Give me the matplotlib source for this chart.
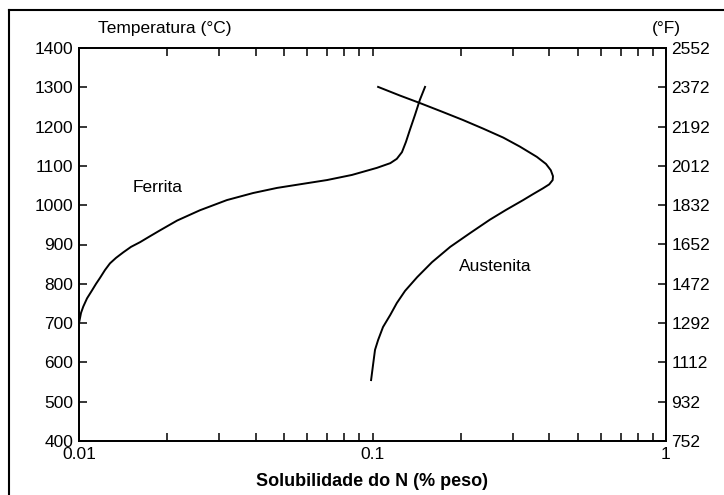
import numpy as np
import matplotlib.pyplot as plt
from matplotlib.lines import Line2D

# Solubilidade do N no ferro: ferrita e austenita
ferrita_n = [0.0100, 0.01016, 0.01034, 0.01065, 0.01107, 0.01143, 0.01179, 0.01226,
             0.01275, 0.01337, 0.01415, 0.01504, 0.01615, 0.01745, 0.01888, 0.0216,
             0.0258, 0.0319, 0.0392, 0.0473, 0.0575, 0.0700, 0.0851, 0.1035,
             0.115, 0.121, 0.126, 0.130, 0.134, 0.1396, 0.145, 0.151]
ferrita_t = [700, 726, 742, 763, 783, 800, 815, 835,
             852, 866, 880, 894, 906, 921, 936, 961,
             987, 1013, 1031, 1044, 1054, 1064, 1077, 1095,
             1107, 1118, 1135, 1161, 1191, 1230, 1268, 1301]

austenita_n = [0.1045, 0.124, 0.145, 0.1725, 0.203, 0.238, 0.279, 0.318, 0.363, 0.390,
               0.405, 0.412, 0.411, 0.400, 0.381, 0.352, 0.326, 0.285, 0.251, 0.215, 0.184,
               0.1595, 0.142, 0.1291, 0.121, 0.115, 0.1086, 0.1045, 0.102, 0.1004, 0.0989]
austenita_t = [1301, 1279, 1260, 1238, 1217, 1195, 1172, 1149, 1123, 1105,
               1089, 1074, 1064, 1053, 1043, 1028, 1013, 988, 963, 929, 894,
               855, 817, 782, 751, 721, 690, 657, 632, 593, 555]

temp_c = [400, 500, 600, 700, 800, 900, 1000, 1100, 1200, 1300, 1400]
temp_f = [752, 932, 1112, 1292, 1472, 1652, 1832, 2012, 2192, 2372, 2552]

plt.rcParams['font.family'] = ['Liberation Sans', 'DejaVu Sans']
fs = 12.5

fig = plt.figure(figsize=(7.24, 4.95), dpi=100)
ax = fig.add_axes([79 / 724, 1 - 441 / 495, (666 - 79) / 724, (441 - 48) / 495])

ax.plot(ferrita_n, ferrita_t, color='black', lw=1.4, solid_joinstyle='round')
ax.plot(austenita_n, austenita_t, color='black', lw=1.4, solid_joinstyle='round')

ax.set_xscale('log')
ax.set_xlim(0.01, 1)
ax.set_ylim(400, 1400)
ax.set_yticks(temp_c)
ax.set_xticks([0.01, 0.1, 1])
ax.set_xticklabels(['0.01', '0.1', '1'])
ax.tick_params(axis='both', which='major', direction='in', length=6, width=1.1,
               labelsize=fs, top=True, pad=4)
ax.tick_params(axis='x', which='minor', direction='in', length=6, width=1.1, top=True)
ax.tick_params(axis='y', which='both', right=False)
for s in ax.spines.values():
    s.set_linewidth(1.3)

# escala em Fahrenheit
axr = ax.twinx()
axr.set_ylim(752, 2552)
axr.set_yticks(temp_f)
axr.tick_params(axis='y', direction='in', length=6, width=1.1, labelsize=fs, pad=4)
for s in axr.spines.values():
    s.set_linewidth(1.3)

ax.text(0.0185, 1044, 'Ferrita', fontsize=fs, ha='center', va='center')
ax.text(0.2615, 843, 'Austenita', fontsize=fs, ha='center', va='center')

fig.text(165 / 724, 1 - 29 / 495, 'Temperatura (°C)', fontsize=fs, ha='center', va='center')
fig.text(666 / 724, 1 - 29 / 495, '(°F)', fontsize=fs, ha='center', va='center')
fig.text(372.5 / 724, 1 - 481 / 495, 'Solubilidade do N (% peso)', fontsize=13,
         fontweight='bold', ha='center', va='center')

# moldura
fig.add_artist(Line2D([9 / 724, 1], [1 - 10 / 495, 1 - 10 / 495], color='black', lw=1.5))
fig.add_artist(Line2D([9 / 724, 9 / 724], [0, 1 - 10 / 495], color='black', lw=1.5))

fig.savefig('out.png', dpi=100)
